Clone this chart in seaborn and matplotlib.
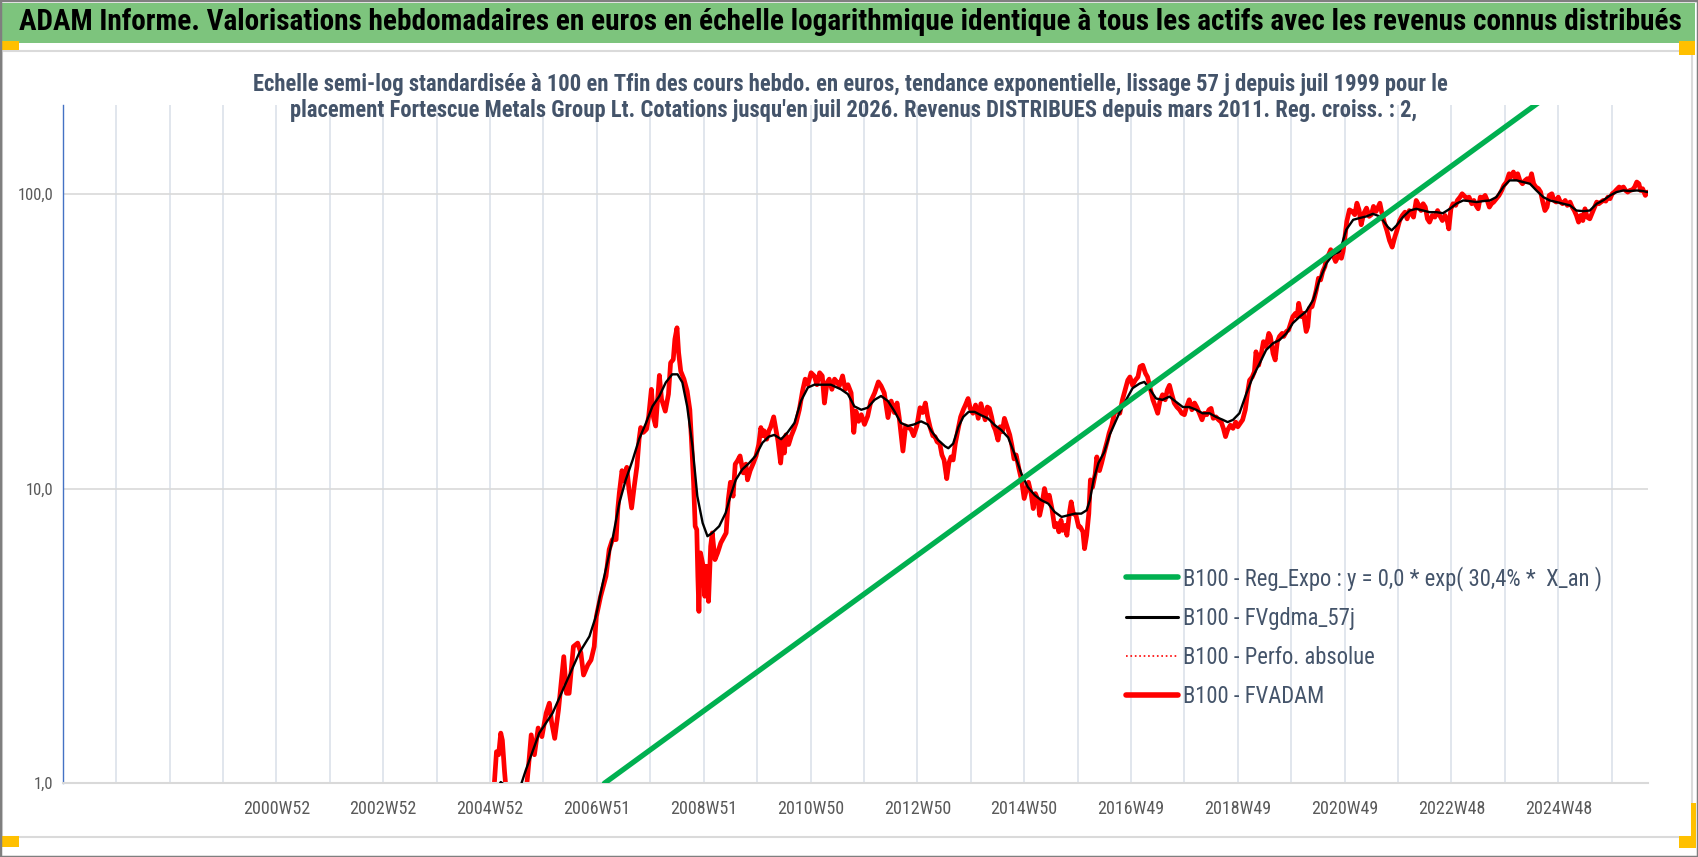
import matplotlib
matplotlib.use("Agg")
import matplotlib.pyplot as plt
from matplotlib.lines import Line2D
from matplotlib.patches import Rectangle
import seaborn as sns

# ---------------------------------------------------------------
# Textes
# ---------------------------------------------------------------
titre = ("ADAM Informe. Valorisations hebdomadaires en euros en échelle logarithmique "
         "identique à tous les actifs avec les revenus connus distribués")
sous_titre_1 = ("Echelle semi-log standardisée à 100 en Tfin des cours hebdo. en euros, tendance "
                "exponentielle, lissage 57 j depuis juil 1999 pour le")
sous_titre_2 = ("placement Fortescue Metals Group Lt. Cotations jusqu'en juil 2026. Revenus "
                "DISTRIBUES depuis mars 2011. Reg. croiss. : 2,")
legendes = ["B100 - Reg_Expo : y = 0,0 * exp( 30,4% *  X_an )",
            "B100 - FVgdma_57j",
            "B100 - Perfo. absolue",
            "B100 - FVADAM"]

# axe des x : une graduation par an, libellé une année sur deux
grille_x = list(range(1997, 2027))
libelles_x = {2001: "2000W52", 2003: "2002W52", 2005: "2004W52", 2007: "2006W51",
              2009: "2008W51", 2011: "2010W50", 2013: "2012W50", 2015: "2014W50",
              2017: "2016W49", 2019: "2018W49", 2021: "2020W49", 2023: "2022W48",
              2025: "2024W48"}
graduations_y = [1, 10, 100]
libelles_y = ["1,0", "10,0", "100,0"]

# ---------------------------------------------------------------
# Séries (base 100)
# ---------------------------------------------------------------
# FVADAM (rouge)
fvadam_x_2005_2010 = [
    2005.05, 2005.08, 2005.12, 2005.16, 2005.20, 2005.23, 2005.27, 2005.30, 2005.45, 2005.62, 2005.69, 2005.73,
    2005.77, 2005.83, 2005.90, 2005.97, 2006.05, 2006.11, 2006.15, 2006.21, 2006.28, 2006.38, 2006.43, 2006.48,
    2006.56, 2006.64, 2006.70, 2006.75, 2006.83, 2006.89, 2006.95, 2006.99,
    2007.07, 2007.17, 2007.23, 2007.29, 2007.36, 2007.39, 2007.42, 2007.47, 2007.51, 2007.56, 2007.60, 2007.65,
    2007.70, 2007.75, 2007.79, 2007.82, 2007.87, 2007.93, 2007.97,
    2008.02, 2008.06, 2008.10, 2008.17, 2008.21, 2008.28, 2008.34, 2008.38, 2008.43, 2008.46, 2008.50, 2008.53,
    2008.57, 2008.63, 2008.69, 2008.74, 2008.77, 2008.81, 2008.84, 2008.87, 2008.89, 2008.91, 2008.94, 2008.99,
    2009.02, 2009.05, 2009.09, 2009.13, 2009.16, 2009.21, 2009.26, 2009.32, 2009.37, 2009.42, 2009.46, 2009.50,
    2009.55, 2009.59, 2009.63, 2009.68, 2009.74, 2009.79, 2009.82, 2009.87, 2009.93, 2009.98,
    2010.03, 2010.07, 2010.10, 2010.13, 2010.18, 2010.22]
fvadam_y_2005_2010 = [
    0.6, 1.0, 1.28, 1.25, 1.48, 1.40, 1.10, 0.95, 0.75, 0.85, 1.0, 1.2,
    1.46, 1.25, 1.54, 1.44, 1.73, 1.87, 1.62, 1.42, 1.77, 2.69, 2.02, 2.02,
    2.91, 2.99, 2.77, 2.33, 2.52, 2.62, 2.91, 3.68,
    4.31, 5.04, 6.21, 6.71, 6.71, 8.48, 9.67, 11.5, 10.6, 11.8, 9.93, 8.59,
    10.2, 11.9, 14.7, 16.1, 15.5, 15.9, 17.6,
    21.7, 17.4, 16.3, 24.2, 20.1, 18.3, 20.9, 26.7, 27.4, 32.1, 35.1, 28.9,
    25.0, 23.5, 21.4, 18.5, 14.7, 10.5, 7.45, 7.25, 5.04, 3.83, 6.05, 5.45,
    4.31, 5.45, 4.14, 6.37, 7.07, 5.74, 6.05, 6.54, 6.80, 7.07, 9.18, 10.5,
    9.42, 12.1, 12.4, 12.9, 11.3, 12.1, 10.7, 11.5, 12.2, 12.9,
    14.1, 16.1, 15.1, 15.7, 14.7, 15.7]

fvadam_x_2010_2013 = [
    2010.25, 2010.31, 2010.34, 2010.39, 2010.44, 2010.48, 2010.51, 2010.54, 2010.59, 2010.64, 2010.69, 2010.73,
    2010.79, 2010.85, 2010.90, 2010.95,
    2011.01, 2011.07, 2011.12, 2011.17, 2011.22, 2011.26, 2011.31, 2011.35, 2011.40, 2011.45, 2011.50, 2011.54,
    2011.60, 2011.65, 2011.70, 2011.76, 2011.81, 2011.85, 2011.90, 2011.95,
    2012.01, 2012.07, 2012.13, 2012.20, 2012.27, 2012.32, 2012.38, 2012.45, 2012.51, 2012.57, 2012.62, 2012.66,
    2012.73, 2012.78, 2012.83, 2012.88, 2012.93, 2012.99,
    2013.05, 2013.10, 2013.15, 2013.19, 2013.24, 2013.29, 2013.33]
fvadam_y_2010_2013 = [
    16.1, 17.5, 16.3, 14.5, 12.2, 14.7, 13.2, 15.2, 14.1, 15.1, 15.9, 16.7,
    18.5, 21.4, 23.5, 22.5,
    24.7, 24.1, 22.5, 24.7, 24.1, 19.5, 22.9, 23.5, 21.7, 23.5, 22.9, 22.3,
    24.1, 21.7, 22.5, 21.1, 15.5, 18.3, 16.9, 17.8,
    16.5, 17.6, 19.8, 21.1, 23.0, 22.3, 21.1, 17.4, 19.8, 18.1, 19.5, 17.4,
    13.4, 16.3, 16.1, 15.9, 15.1, 16.3,
    18.8, 18.1, 19.5, 17.6, 16.1, 15.1, 15.0]

fvadam_x_2013_2016 = [
    2013.37, 2013.42, 2013.46, 2013.50, 2013.55, 2013.59, 2013.63, 2013.67, 2013.71, 2013.76, 2013.81, 2013.86,
    2013.90, 2013.95, 2013.99,
    2014.04, 2014.09, 2014.14, 2014.19, 2014.23, 2014.27, 2014.31, 2014.35, 2014.39, 2014.42, 2014.46, 2014.51,
    2014.55, 2014.59, 2014.63, 2014.68, 2014.73, 2014.77, 2014.81, 2014.85, 2014.90, 2014.95,
    2015.00, 2015.04, 2015.08, 2015.13, 2015.17, 2015.21, 2015.26, 2015.29, 2015.33, 2015.38, 2015.43, 2015.47,
    2015.52, 2015.57, 2015.61, 2015.65, 2015.69, 2015.72, 2015.77, 2015.80, 2015.85, 2015.88, 2015.92, 2015.97,
    2016.02, 2016.05, 2016.10, 2016.13, 2016.17, 2016.21, 2016.24, 2016.28, 2016.33, 2016.36, 2016.41, 2016.45,
    2016.50]
fvadam_y_2013_2016 = [
    14.4, 14.2, 13.0, 12.5, 10.8, 12.2, 12.8, 12.5, 14.2, 15.8, 17.5, 18.5,
    19.2, 20.2, 18.7,
    18.0, 19.2, 17.3, 19.4, 18.2, 17.1, 18.9, 18.7, 17.5, 16.4, 15.8, 14.6,
    16.2, 15.6, 17.3, 16.2, 15.2, 14.0, 12.6, 13.0, 11.7, 10.7,
    9.25, 9.87, 10.5, 9.61, 8.55, 9.61, 9.13, 8.11, 8.78, 10.0, 9.13, 9.49,
    8.55, 7.41, 7.61, 7.13, 7.80, 7.21, 7.50, 6.94, 8.33, 9.01, 8.22, 8.11,
    7.41, 7.41, 7.13, 6.25, 6.94, 8.22, 10.7, 10.1, 11.2, 12.8, 11.5, 12.2,
    13.3]

fvadam_x_2016_2021 = [
    2016.56, 2016.59, 2016.64, 2016.69, 2016.75, 2016.79, 2016.84, 2016.89, 2016.94, 2016.98,
    2017.03, 2017.08, 2017.13, 2017.17, 2017.22, 2017.27, 2017.31, 2017.36, 2017.41, 2017.46, 2017.50,
    2017.54, 2017.59, 2017.64, 2017.68, 2017.72, 2017.76, 2017.81, 2017.86, 2017.91, 2017.95,
    2018.00, 2018.04, 2018.09, 2018.14, 2018.19, 2018.23, 2018.28, 2018.33, 2018.37, 2018.42, 2018.46,
    2018.50, 2018.54, 2018.59, 2018.64, 2018.69, 2018.73, 2018.77, 2018.81, 2018.86, 2018.91, 2018.96,
    2019.00, 2019.04, 2019.09, 2019.14, 2019.18, 2019.22, 2019.27, 2019.31, 2019.34, 2019.39, 2019.44,
    2019.48, 2019.53, 2019.58, 2019.61, 2019.66, 2019.70, 2019.74, 2019.78, 2019.83, 2019.86, 2019.91,
    2019.95, 2019.99,
    2020.03, 2020.08, 2020.11, 2020.14, 2020.19, 2020.23, 2020.28, 2020.31, 2020.34, 2020.39, 2020.44,
    2020.47, 2020.51, 2020.55, 2020.59, 2020.63, 2020.66, 2020.70, 2020.74, 2020.78, 2020.83, 2020.86,
    2020.89, 2020.94, 2020.97,
    2021.00, 2021.04, 2021.09, 2021.14, 2021.19, 2021.23, 2021.27, 2021.31, 2021.36, 2021.41, 2021.46,
    2021.50, 2021.54, 2021.59, 2021.66]
fvadam_y_2016_2021 = [
    14.6, 15.4, 16.4, 18.0, 18.5, 18.0, 20.0, 21.6, 23.3, 23.9,
    22.4, 23.3, 23.9, 25.9, 26.2, 24.6, 23.9, 21.9, 20.0, 18.9, 18.0,
    19.7, 20.8, 20.0, 21.6, 22.4, 21.0, 19.5, 18.9, 18.5, 18.0,
    17.8, 18.9, 20.0, 18.5, 19.5, 18.9, 18.0, 17.1, 18.0, 17.8, 18.5,
    18.7, 17.3, 17.5, 17.1, 16.8, 16.0, 15.0, 15.8, 16.4, 16.0, 16.8,
    16.2, 16.6, 17.1, 18.5, 21.0, 23.3, 23.9, 24.9, 29.1, 26.2, 28.7,
    31.5, 30.3, 33.6, 32.8, 28.7, 27.3, 31.5, 32.8, 33.6, 32.8, 34.1,
    34.5, 36.4,
    38.3, 39.3, 38.3, 42.5, 38.3, 39.3, 34.1, 35.4, 40.9, 41.4, 44.8,
    47.2, 51.7, 51.0, 54.5, 56.6, 60.4, 62.1, 64.6, 62.1, 58.9, 60.4,
    62.1, 60.4, 63.7,
    69.8, 80.5, 88.2, 87.1, 84.9, 92.9, 88.2, 78.5, 85.9, 89.4, 83.8,
    84.9, 90.6, 87.1, 92.9]

fvadam_x_2021_2026 = [
    2021.70, 2021.75, 2021.79, 2021.84, 2021.89, 2021.94, 2021.98,
    2022.03, 2022.08, 2022.13, 2022.17, 2022.21, 2022.25, 2022.29, 2022.34, 2022.39, 2022.43, 2022.47, 2022.51,
    2022.55, 2022.59, 2022.64, 2022.69, 2022.74, 2022.78, 2022.83, 2022.88, 2022.92, 2022.95, 2022.99,
    2023.03, 2023.08, 2023.11, 2023.16, 2023.20, 2023.25, 2023.29, 2023.33, 2023.38, 2023.42, 2023.46, 2023.50,
    2023.54, 2023.58, 2023.63, 2023.67, 2023.71, 2023.75, 2023.79, 2023.84, 2023.89, 2023.94, 2023.98,
    2024.03, 2024.08, 2024.11, 2024.16, 2024.20, 2024.24, 2024.28, 2024.33, 2024.38, 2024.42, 2024.46, 2024.50,
    2024.54, 2024.58, 2024.63, 2024.67, 2024.71, 2024.75, 2024.79, 2024.83, 2024.88, 2024.92, 2024.96,
    2025.00, 2025.04, 2025.08, 2025.13, 2025.17, 2025.22, 2025.26, 2025.30, 2025.34, 2025.38, 2025.42, 2025.46,
    2025.50, 2025.54, 2025.59, 2025.64, 2025.68, 2025.72, 2025.76, 2025.80, 2025.84, 2025.89, 2025.93, 2025.97,
    2026.01, 2026.05, 2026.09, 2026.14, 2026.18, 2026.22, 2026.26, 2026.30, 2026.34, 2026.39, 2026.43, 2026.47,
    2026.51, 2026.54, 2026.58, 2026.63, 2026.67]
fvadam_y_2021_2026 = [
    85.5, 79.1, 75.1, 69.4, 65.9, 71.3, 75.1,
    81.1, 84.4, 86.6, 82.2, 87.7, 85.5, 83.3, 94.9, 91.3, 87.7, 92.5, 90.1,
    82.2, 80.1, 84.4, 83.3, 87.7, 84.4, 81.1, 84.4, 81.1, 76.0, 88.9,
    92.5, 91.3, 94.9, 97.4, 100.0, 97.9, 96.2, 97.4, 92.5, 94.9, 91.3, 88.9,
    97.4, 96.2, 98.7, 94.9, 90.1, 92.5, 93.7, 96.2, 98.7, 102.6, 106.7,
    109.6, 116.9, 113.9, 118.5, 112.5, 116.9, 111.0, 108.1, 111.0, 112.5, 109.6, 116.9,
    108.1, 105.4, 104.0, 101.3, 93.7, 87.7, 90.1, 98.7, 100.0, 94.9, 93.7,
    97.4, 93.7, 92.5, 94.9, 91.3, 93.7, 90.1, 87.7, 84.4, 80.1, 84.4, 81.1,
    88.9, 83.3, 82.2, 86.6, 90.1, 93.7, 92.5, 93.7, 94.9, 94.4, 97.4, 96.2,
    100.0, 101.3, 103.2, 105.4, 104.0, 105.4, 102.6, 101.3, 102.6, 103.2, 105.4, 109.6,
    108.1, 102.6, 104.0, 98.7, 101.3]

# FVgdma_57j (noir, lissée)
gdma_x = [
    2004.90, 2005.20, 2005.45, 2005.58, 2005.67, 2005.92, 2006.17, 2006.42, 2006.67, 2006.86, 2006.98,
    2007.11, 2007.29, 2007.42, 2007.54, 2007.67, 2007.79, 2007.92,
    2008.04, 2008.17, 2008.29, 2008.41, 2008.51, 2008.60, 2008.69, 2008.79, 2008.88, 2008.98,
    2009.07, 2009.16, 2009.29, 2009.41, 2009.50, 2009.60, 2009.72, 2009.85, 2009.97,
    2010.10, 2010.22, 2010.32, 2010.45, 2010.57, 2010.70, 2010.82, 2010.95,
    2011.07, 2011.20, 2011.38, 2011.57, 2011.70, 2011.82, 2011.95,
    2012.07, 2012.20, 2012.32, 2012.45, 2012.57, 2012.69, 2012.82, 2012.94,
    2013.07, 2013.19, 2013.27, 2013.39, 2013.52, 2013.58, 2013.67, 2013.77, 2013.86, 2013.96,
    2014.07, 2014.20, 2014.32, 2014.45, 2014.57, 2014.70, 2014.82, 2014.95,
    2015.07, 2015.20, 2015.32, 2015.45, 2015.57, 2015.70, 2015.82, 2015.95,
    2016.07, 2016.17, 2016.23, 2016.30, 2016.39, 2016.50, 2016.60, 2016.78, 2016.91,
    2017.03, 2017.16, 2017.25, 2017.34, 2017.47, 2017.59, 2017.72, 2017.84, 2017.97,
    2018.09, 2018.22, 2018.34, 2018.47, 2018.59, 2018.72, 2018.81, 2018.91,
    2019.03, 2019.16, 2019.28, 2019.41, 2019.53, 2019.66, 2019.78, 2019.91,
    2020.03, 2020.16, 2020.28, 2020.41, 2020.53, 2020.66, 2020.78, 2020.91,
    2021.03, 2021.16, 2021.28, 2021.41, 2021.53, 2021.64, 2021.72, 2021.81, 2021.88, 2021.97,
    2022.09, 2022.22, 2022.34, 2022.47, 2022.59, 2022.72, 2022.84, 2022.97,
    2023.09, 2023.22, 2023.34, 2023.47, 2023.59, 2023.72, 2023.84, 2023.97,
    2024.09, 2024.22, 2024.34, 2024.47, 2024.59, 2024.72, 2024.84, 2024.97,
    2025.09, 2025.22, 2025.34, 2025.47, 2025.59, 2025.72, 2025.84, 2025.97,
    2026.09, 2026.22, 2026.34, 2026.47, 2026.59, 2026.67]
gdma_y = [
    0.80, 1.01, 0.93, 0.99, 1.11, 1.48, 1.73, 2.19, 2.77, 3.15, 3.68,
    4.78, 6.71, 8.94, 10.7, 12.5, 14.7, 16.7,
    19.0, 20.6, 22.9, 24.4, 24.4, 22.9, 19.0, 13.9, 9.42, 7.64,
    6.89, 7.07, 7.45, 8.26, 9.42, 10.7, 11.6, 12.2, 12.9,
    14.3, 15.0, 15.2, 14.7, 15.5, 16.7, 19.8, 22.0,
    22.5, 22.5, 22.5, 21.7, 20.9, 19.0, 18.5,
    18.8, 20.0, 20.6, 19.8, 18.3, 16.7, 16.3, 16.5,
    16.9, 16.5, 15.6, 14.6, 13.9, 13.7, 14.2, 16.2, 17.5, 18.2,
    18.2, 17.7, 17.3, 16.4, 15.8, 14.9, 13.1, 11.2,
    10.1, 9.49, 9.13, 8.89, 8.33, 8.01, 8.11, 8.22,
    8.22, 8.44, 9.13, 10.7, 12.2, 13.3, 15.2, 18.0, 20.0,
    21.9, 22.7, 23.0, 21.9, 20.2, 20.0, 20.5, 19.7, 18.9,
    18.9, 18.5, 18.0, 18.0, 17.5, 17.1, 16.8, 17.1,
    18.0, 21.0, 23.9, 26.6, 29.5, 31.1, 31.9, 33.6,
    36.4, 38.3, 39.9, 43.6, 51.0, 58.1, 62.1, 63.7,
    75.5, 81.6, 82.7, 83.8, 85.5, 84.0, 81.1, 77.1, 75.1, 78.0,
    83.3, 87.7, 88.9, 87.7, 86.6, 86.6, 85.9, 88.9,
    92.5, 94.9, 94.4, 93.7, 94.4, 94.9, 97.4, 105.4,
    111.0, 111.0, 109.6, 108.1, 102.6, 97.4, 94.9, 93.7,
    92.5, 91.3, 87.7, 87.3, 87.7, 92.5, 94.9, 98.7,
    101.3, 102.6, 102.1, 102.6, 102.1, 101.3]

# Reg_Expo (vert) : droite de régression exponentielle, extrémités lues
reg_x = [2007.14, 2026.68]
reg_y = [1.0, 380.0]

fvadam_x = (fvadam_x_2005_2010 + fvadam_x_2010_2013 + fvadam_x_2013_2016
            + fvadam_x_2016_2021 + fvadam_x_2021_2026)
fvadam_y = (fvadam_y_2005_2010 + fvadam_y_2010_2013 + fvadam_y_2013_2016
            + fvadam_y_2016_2021 + fvadam_y_2021_2026)

# ---------------------------------------------------------------
# Style
# ---------------------------------------------------------------
sns.set_style("white")
polices = ["Liberation Sans Narrow", "Roboto Condensed", "DejaVu Sans"]
plt.rcParams["font.family"] = polices

VERT = "#00B050"
ROUGE = "#FF0000"
NOIR = "#000000"
GRIS_TXT = "#595959"
ARDOISE = "#44546A"

W, H = 1698, 857
fig = plt.figure(figsize=(W / 100, H / 100), dpi=100)
fig.patch.set_facecolor("white")


def rect_px(x0, y0, x1, y1, **kw):
    """Rectangle décoratif donné en pixels (origine en haut à gauche)."""
    r = Rectangle((x0 / W, 1 - y1 / H), (x1 - x0) / W, (y1 - y0) / H,
                  transform=fig.transFigure, **kw)
    fig.patches.append(r)
    return r


# bandeau vert du titre
rect_px(2, 3, 1695, 42.5, facecolor="#7DC47D", edgecolor="none", zorder=0)
# cadre gris clair de la zone graphique
rect_px(2, 51, 1692, 837, facecolor="none", edgecolor="#DADADA", lw=1.5, zorder=0)
# poignées de sélection orange (capture Excel)
for box in [(0, 41, 19, 50), (1679, 41, 1695, 55), (0, 836, 19, 847),
            (1679, 836, 1696, 848), (1691, 803, 1696, 848)]:
    rect_px(*box, facecolor="#FFC000", edgecolor="none", zorder=1)
# bordure extérieure
rect_px(0, 0, W, H, facecolor="none", edgecolor="#7F7F7F", lw=2.5, zorder=5)

# ---------------------------------------------------------------
# Zone de tracé
# ---------------------------------------------------------------
ax = fig.add_axes([62.8 / W, 1 - 783.3 / H, (1648 - 62.8) / W, (783.3 - 105) / H])
ax.set_facecolor("white")

sns.lineplot(x=fvadam_x, y=fvadam_y, ax=ax, color=ROUGE, linewidth=3.4,
             estimator=None, zorder=2)
sns.lineplot(x=fvadam_x, y=fvadam_y, ax=ax, color=ROUGE, linewidth=1.0,
             linestyle=":", estimator=None, zorder=2.5)
sns.lineplot(x=gdma_x, y=gdma_y, ax=ax, color=NOIR, linewidth=1.7,
             estimator=None, zorder=3)
sns.lineplot(x=reg_x, y=reg_y, ax=ax, color=VERT, linewidth=3.8,
             estimator=None, zorder=4)

ax.set_yscale("log")
ax.set_ylim(1, 200)
ax.set_xlim(1997, 2026.68)
ax.set_xlabel("")
ax.set_ylabel("")

ax.set_yticks(graduations_y)
ax.set_yticklabels(libelles_y)
ax.yaxis.set_minor_locator(matplotlib.ticker.NullLocator())
ax.set_xticks(grille_x)
ax.set_xticklabels([libelles_x.get(a, "") for a in grille_x])

ax.grid(True, axis="x", color="#DCE1EA", linewidth=1.2)
ax.grid(True, axis="y", color="#D9D9D9", linewidth=1.2)
ax.set_axisbelow(True)

for cote in ["top", "right"]:
    ax.spines[cote].set_visible(False)
ax.spines["left"].set_color("#4472C4")
ax.spines["left"].set_linewidth(1.0)
ax.spines["bottom"].set_color("#D9D9D9")
ax.spines["bottom"].set_linewidth(1.5)

ax.tick_params(axis="x", direction="out", length=4, width=1.2, color="#D9D9D9",
               labelcolor=GRIS_TXT, labelsize=13, pad=8)
ax.tick_params(axis="y", length=0, labelcolor=GRIS_TXT, labelsize=12, pad=7)

# ---------------------------------------------------------------
# Titres (taille ajustée à la largeur)
# ---------------------------------------------------------------
rend = fig.canvas.get_renderer()


def ajuste(txt, largeur_px):
    for _ in range(3):
        w = txt.get_window_extent(rend).width
        txt.set_fontsize(txt.get_fontsize() * largeur_px / w)
    return txt.get_fontsize()


t = fig.text(850.5 / W, 1 - 22.5 / H, titre, ha="center", va="center",
             fontweight="bold", color="black", fontsize=20, zorder=6)
ajuste(t, 1663)

s1 = fig.text(850 / W, 1 - 84.5 / H, sous_titre_1, ha="center", va="center",
              fontweight="bold", color=ARDOISE, fontsize=14, zorder=6)
fs_sous = ajuste(s1, 1191)
fig.text(854 / W, 1 - 111 / H, sous_titre_2, ha="center", va="center",
         fontweight="bold", color=ARDOISE, fontsize=fs_sous, zorder=6)

# ---------------------------------------------------------------
# Légende
# ---------------------------------------------------------------
tmp = fig.text(0, 0, legendes[0], fontsize=15)
fs_leg = ajuste(tmp, 420)
tmp.remove()
fs_px = fs_leg * 100 / 72

poignees = [Line2D([], [], color=VERT, lw=4.0),
            Line2D([], [], color=NOIR, lw=2.2),
            Line2D([], [], color=ROUGE, lw=1.2, ls=":"),
            Line2D([], [], color=ROUGE, lw=4.0)]
leg = ax.legend(poignees, legendes, loc="upper left",
                bbox_to_anchor=(1126 / W, 1 - (580 - 0.62 * fs_px) / H),
                bbox_transform=fig.transFigure, frameon=False,
                fontsize=fs_leg, borderpad=0, borderaxespad=0,
                handlelength=52 / fs_px, handletextpad=5 / fs_px,
                labelspacing=(38.3 - 1.2 * fs_px + 4.8) / fs_px)
for txt in leg.get_texts():
    txt.set_color(ARDOISE)

fig.savefig("out.png", dpi=100)
